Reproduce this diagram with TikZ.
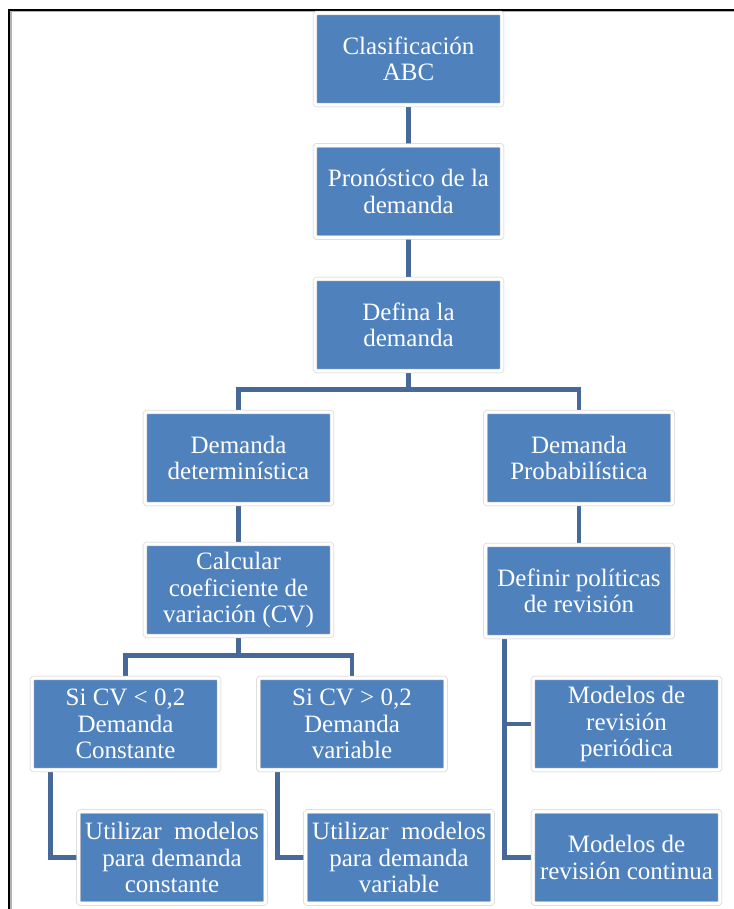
\documentclass[tikz,border=0pt]{standalone}
\usepackage{fontspec}
\setmainfont{Liberation Serif}
\usetikzlibrary{calc,backgrounds}
\definecolor{boxblue}{HTML}{4F81BD}
\definecolor{linkblue}{HTML}{46699A}
\definecolor{rimgray}{HTML}{C8C8C8}
\tikzset{
  stepbox/.style={
    fill=boxblue, draw=rimgray, double=white, double distance=3.4pt,
    line width=0.5pt, rounded corners=1.5pt,
    minimum width=187pt, minimum height=92pt, inner sep=1pt,
    text=white, align=center,
    font=\fontsize{25}{26.5}\selectfont
  },
  link/.style={draw=linkblue, line width=4.6pt, line cap=rect},
}
\begin{document}
\begin{tikzpicture}[x=1pt,y=-1pt]
\useasboundingbox (0,0) rectangle (733,909);
% frame
\draw[gray!60, line width=3pt] (10,910) -- (10,11) -- (734,11);
\draw[black, line width=1.6pt] (9,910) -- (9,10) -- (734,10);

% main chain
\node[stepbox] (abc)  at (408.5,59)   {Clasificación\\ABC};
\node[stepbox] (pron) at (408.5,191.5){Pronóstico de la\\demanda};
\node[stepbox] (def)  at (408.5,325)  {Defina la\\demanda};

% two kinds of demand
\node[stepbox] (det)  at (238.5,458)  {Demanda\\determinística};
\node[stepbox] (prob) at (579,458)    {Demanda\\Probabilística};

\node[stepbox] (calc) at (238.5,590)  {Calcular\\coeficiente de\\variación (CV)};
\node[stepbox] (pol)  at (579,591)    {Definir políticas\\de revisión};

\node[stepbox] (cvlo) at (125.5,724)  {Si CV < 0,2\\Demanda\\Constante};
\node[stepbox] (cvhi) at (352,724)    {Si CV > 0,2\\Demanda\\variable};
\node[stepbox] (ucon) at (172,857.5)  {Utilizar~ modelos\\para demanda\\constante};
\node[stepbox] (uvar) at (399,857.5)  {Utilizar~ modelos\\para demanda\\variable};

\node[stepbox] (per)  at (626.5,724)  {Modelos de\\revisión\\periódica};
\node[stepbox] (cont) at (626.5,857.5){Modelos de\\revisión continua};

\begin{scope}[on background layer]
  \draw[link] (abc.south) -- (pron.north);
  \draw[link] (pron.south) -- (def.north);
  \coordinate (split1) at ($(def.south)+(0,18)$);
  \draw[link] (def.south) -- (split1) -| (det.north);
  \draw[link] (split1) -| (prob.north);
  \draw[link] (det.south) -- (calc.north);
  \draw[link] (prob.south) -- (pol.north);
  \coordinate (split2) at ($(calc.south)+(0,19)$);
  \draw[link] (calc.south) -- (split2) -| (cvlo.north);
  \draw[link] (split2) -| (cvhi.north);
  \draw[link] ($(cvlo.south west)+(19,0)$) |- (ucon.west);
  \draw[link] ($(cvhi.south west)+(19,0)$) |- (uvar.west);
  \draw[link] ($(pol.south west)+(19,0)$) |- (per.west);
  \draw[link] ($(pol.south west)+(19,0)$) |- (cont.west);
\end{scope}
\end{tikzpicture}
\end{document}
